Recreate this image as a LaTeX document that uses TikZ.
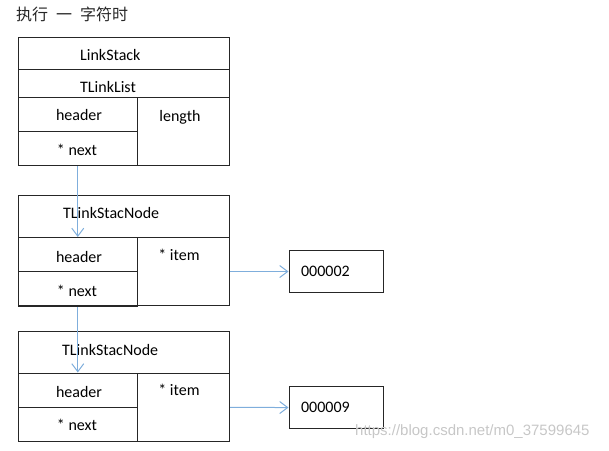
\documentclass[tikz,border=0pt]{standalone}
\usepackage{fontspec}
\setmainfont{Carlito}
\newfontfamily\cjk{Noto Sans CJK SC}
\newfontfamily\wmfont{Liberation Sans}
\usetikzlibrary{arrows.meta}
\definecolor{linkblue}{HTML}{7FAEDC}
\definecolor{boxline}{HTML}{262626}
\begin{document}
\begin{tikzpicture}[x=1pt,y=-1pt,
  cell/.style={draw=boxline,line width=1.1pt,anchor=north west,inner sep=0pt},
  lbl/.style={font=\fontsize{16}{19}\selectfont,inner sep=0pt,text=black},
  valbox/.style={draw=boxline,line width=1.1pt,minimum height=42pt,text width=70pt,inner xsep=12pt,align=left,font=\fontsize{16}{19}\selectfont},
  link/.style={draw=linkblue,line width=1pt,-{Straight Barb[length=8pt,width=12pt,line width=1pt]}}]
\useasboundingbox (0,0) rectangle (609,450);
% title
\node[anchor=west,inner sep=0pt,text=black!85,font=\cjk\fontsize{16}{19}\selectfont] (title) at (16,14) {执行\hspace{8pt}一\hspace{8pt}字符时};
% top structure
\node[cell,minimum width=211.5pt,minimum height=32pt] (ls) at (17.5,37) {};
\node[cell,minimum width=211.5pt,minimum height=96pt] (tl) at (17.5,69) {};
\node[cell,minimum width=119.5pt,minimum height=34pt] (hdr0) at (17.5,97) {};
\node[cell,minimum width=119.5pt,minimum height=34pt] (next0) at (17.5,131) {};
\node[cell,minimum width=92pt,minimum height=68pt] (len) at (137,97) {};
\node[lbl,anchor=west] (lsT) at (80,55) {LinkStack};
\node[lbl,anchor=west] (tlT) at (80,87) {TLinkList};
\node[lbl] (hdr0T) at (79,115) {header};
\node[lbl] (next0T) at (77,150) {* next};
\node[lbl] (lenT) at (180,117) {length};
% node 1
\node[cell,minimum width=211.5pt,minimum height=110pt] (n1) at (17.5,195) {};
\node[cell,minimum width=119.5pt,minimum height=34pt] (hdr1) at (17.5,237) {};
\node[cell,minimum width=119.5pt,minimum height=35pt] (next1) at (17.5,271) {};
\node[cell,minimum width=92pt,minimum height=68pt] (item1) at (137,237) {};
\node[lbl,anchor=west] (n1T) at (63,213) {TLinkStacNode};
\node[lbl] (hdr1T) at (79,257) {header};
\node[lbl] (next1T) at (77,291) {* next};
\node[lbl] (item1T) at (179,255) {* item};
\node[valbox,anchor=north west] (v1) at (288.5,250) {000002};
% node 2
\node[cell,minimum width=211.5pt,minimum height=110pt] (n2) at (17.5,331) {};
\node[cell,minimum width=119.5pt,minimum height=34pt] (hdr2) at (17.5,372.5) {};
\node[cell,minimum width=119.5pt,minimum height=34pt] (next2) at (17.5,406.5) {};
\node[cell,minimum width=92pt,minimum height=68.5pt] (item2) at (137,372.5) {};
\node[lbl,anchor=west] (n2T) at (62,350) {TLinkStacNode};
\node[lbl] (hdr2T) at (79,392) {header};
\node[lbl] (next2T) at (77,425) {* next};
\node[lbl] (item2T) at (179,390) {* item};
\node[valbox,anchor=north west] (v2) at (288.5,386) {000009};
% connectors
\draw[link] (next0.south) -- (hdr1.north);
\draw[link] (next1.south) -- (hdr2.north);
\draw[link] (item1.east) -- (v1.west);
\draw[link] (item2.east) -- (v2.west);
% watermark
\node[anchor=west,inner sep=0pt,text=black!22,font=\wmfont\fontsize{15}{18}\selectfont] (wm) at (355,432) {https://blog.csdn.net/m0\_37599645};
\end{tikzpicture}
\end{document}
